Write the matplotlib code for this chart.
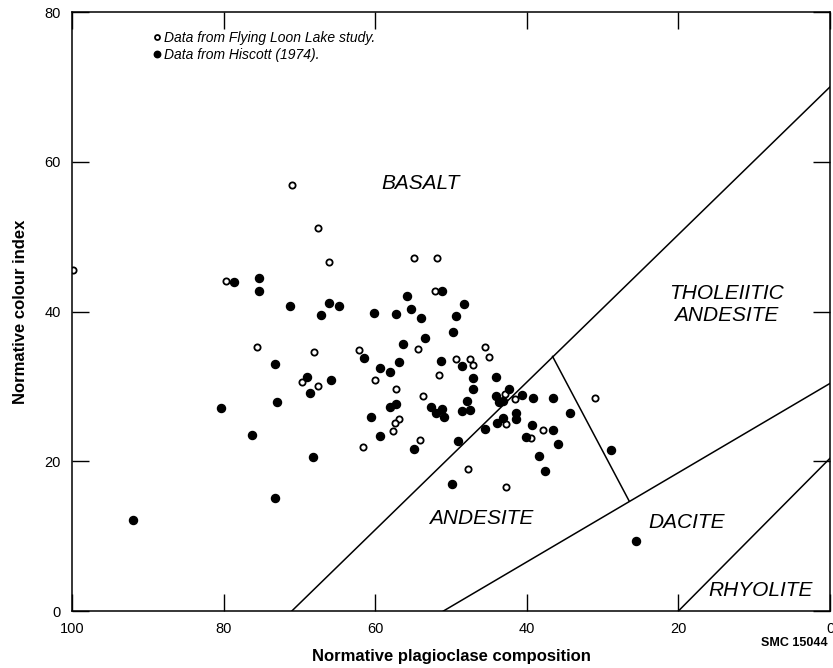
import matplotlib
matplotlib.use("Agg")
from matplotlib import pyplot as plt

plt.rcParams['font.family'] = ['Liberation Sans', 'DejaVu Sans']

# Flying Loon Lake study (open circles)
loon_x = [99.8, 79.7, 75.6, 69.7, 71.0, 67.6, 66.1, 54.9, 51.9, 52.1, 54.3, 45.5,
          45.0, 68.1, 62.1, 49.3, 47.5, 47.1, 51.6, 60.0, 67.6, 57.3, 53.7, 56.8,
          57.4, 57.6, 54.1, 61.6, 47.7, 42.9, 41.5, 31.0, 42.7, 37.8, 39.4, 42.7]
loon_y = [45.6, 44.1, 35.3, 30.6, 56.9, 51.1, 46.6, 47.2, 47.2, 42.7, 35.0, 35.2,
          33.9, 34.6, 34.9, 33.6, 33.6, 32.9, 31.5, 30.9, 30.0, 29.7, 28.7, 25.6,
          25.1, 24.1, 22.8, 21.9, 19.0, 29.0, 28.3, 28.5, 25.0, 24.2, 23.1, 16.6]

# Hiscott (1974) (filled circles)
hisc_x = [92.0, 80.4, 78.6, 75.3, 75.3, 71.2, 73.2, 69.0, 68.6, 73.0, 76.2, 73.2,
          68.2, 66.1, 64.8, 67.1, 60.1, 57.3, 55.8, 55.3, 53.9, 51.2, 48.3, 49.3,
          49.7, 53.4, 56.3, 61.5, 59.3, 56.9, 58.0, 51.3, 48.6, 47.1, 47.1, 47.9,
          47.5, 48.6, 65.8, 58.1, 57.2, 52.7, 51.2, 52.0, 50.9, 60.6, 59.3, 54.9,
          49.1, 45.5, 49.9, 44.0, 42.4, 44.1, 40.6, 39.2, 36.6, 43.7, 43.1, 34.3,
          41.4, 41.4, 43.1, 43.9, 39.3, 36.6, 40.1, 35.9, 38.4, 37.6, 28.9, 25.6]
hisc_y = [12.2, 27.1, 44.0, 44.5, 42.7, 40.7, 33.0, 31.3, 29.1, 27.9, 23.5, 15.1,
          20.6, 41.2, 40.7, 39.5, 39.8, 39.7, 42.1, 40.4, 39.2, 42.7, 41.0, 39.4,
          37.2, 36.5, 35.7, 33.8, 32.5, 33.2, 31.9, 33.4, 32.7, 31.1, 29.6, 28.0,
          26.8, 26.7, 30.8, 27.3, 27.7, 27.3, 27.0, 26.4, 25.9, 25.9, 23.4, 21.6,
          22.7, 24.3, 17.0, 31.3, 29.7, 28.7, 28.9, 28.5, 28.5, 27.9, 28.1, 26.5,
          26.5, 25.6, 25.8, 25.1, 24.9, 24.2, 23.3, 22.3, 20.7, 18.7, 21.5, 9.4]

# field boundaries (x pairs, y pairs)
bounds = [
    ([71.0, 0.0], [0.0, 70.0]),
    ([51.0, 0.0], [0.0, 30.4]),
    ([20.0, 0.0], [0.0, 20.4]),
    ([36.6, 26.5], [34.0, 14.7]),
]

fields = ["BASALT", "THOLEIITIC\nANDESITE", "ANDESITE", "DACITE", "RHYOLITE"]
field_xy = [(54.0, 57.1), (13.7, 41.0), (46.0, 12.3), (18.9, 11.8), (9.2, 2.8)]

fig = plt.figure(figsize=(8.33, 6.68), dpi=100)
ax = fig.add_axes([0.0864, 0.0853, 0.9100, 0.8967])

for bx, by in bounds:
    ax.plot(bx, by, color='black', lw=1.1)

ax.plot(loon_x, loon_y, 'o', mfc='white', mec='black', mew=1.3, ms=4.5,
        ls='none', label='Data from Flying Loon Lake study.')
ax.plot(hisc_x, hisc_y, 'o', color='black', ms=5.8, ls='none',
        label='Data from Hiscott (1974).')

for name, (fx, fy) in zip(fields, field_xy):
    ax.text(fx, fy, name, style='italic', fontsize=15, ha='center', va='center',
            linespacing=1.2)

ax.legend(loc='upper left', bbox_to_anchor=(0.098, 0.980), frameon=False,
          handlelength=0.5, handletextpad=0.3, labelspacing=0.2, borderpad=0,
          prop={'style': 'italic', 'size': 10}, markerscale=0.8)

ax.set_xlim(100, 0)
ax.set_ylim(0, 80)
ax.set_xticks([100, 80, 60, 40, 20, 0])
ax.set_yticks([0, 20, 40, 60, 80])
ax.tick_params(direction='in', length=12, width=1, top=True, right=True,
               labelsize=10.5, pad=8)
for s in ax.spines.values():
    s.set_linewidth(1.1)

ax.set_xlabel('Normative plagioclase composition', fontsize=12, fontweight='bold',
              va='top')
ax.xaxis.set_label_coords(0.5, -0.063)
ax.set_ylabel('Normative colour index', fontsize=12, fontweight='bold', labelpad=12)
fig.text(0.993, 0.037, 'SMC 15044', ha='right', va='center', fontsize=9,
         fontweight='bold')

fig.savefig('out.png', dpi=100)
